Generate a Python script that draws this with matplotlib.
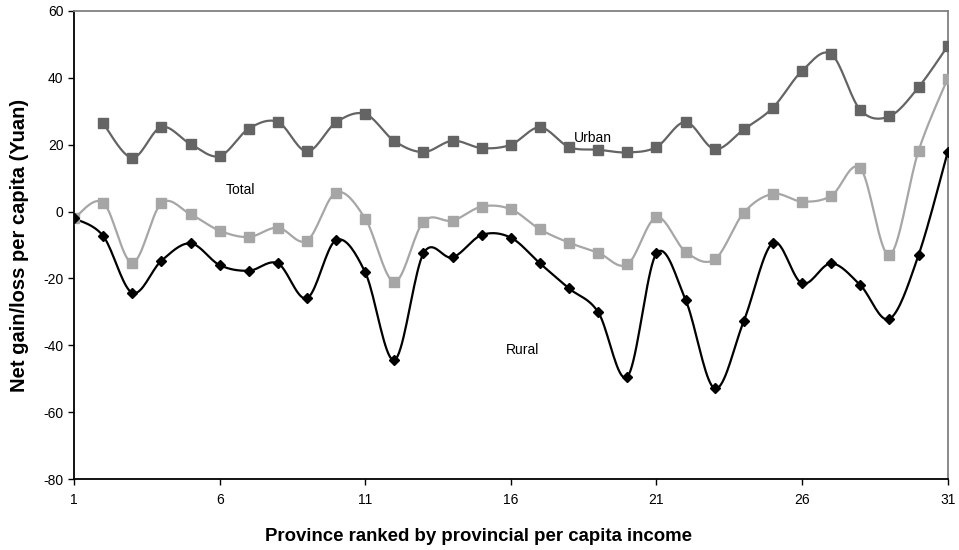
import numpy as np
import matplotlib
matplotlib.use('Agg')
import matplotlib.pyplot as plt

plt.rcParams['font.family'] = ['Liberation Sans', 'DejaVu Sans']
plt.rcParams['axes.unicode_minus'] = False

# Dados
provincias_urban = list(range(2, 32))
urban = [26.4, 16.1, 25.3, 20.2, 16.6, 24.8, 26.8, 18.0, 26.7, 29.2,
         21.1, 17.8, 21.2, 19.0, 20.0, 25.2, 19.3, 18.5, 17.7, 19.3,
         26.8, 18.7, 24.6, 31.1, 42.1, 47.1, 30.4, 28.5, 37.2, 49.5]
provincias = list(range(1, 32))
total = [-2.0, 2.7, -15.3, 2.5, -0.8, -5.7, -7.6, -4.8, -8.7, 5.7,
         -2.1, -21.0, -3.0, -2.7, 1.5, 0.7, -5.3, -9.3, -12.3, -15.8,
         -1.7, -12.0, -14.3, -0.3, 5.3, 3.0, 4.7, 13.0, -13.0, 18.2, 39.8]
rural = [-2.0, -7.3, -24.3, -14.7, -9.5, -16.0, -17.7, -15.5, -25.9, -8.5,
         -18.2, -44.4, -12.5, -13.7, -7.0, -7.8, -15.5, -23.0, -30.1, -49.4,
         -12.5, -26.4, -52.9, -32.7, -9.3, -21.5, -15.5, -22.0, -32.1, -13.0, 17.8]
xticks = [1, 6, 11, 16, 21, 26, 31]
yticks = [-80, -60, -40, -20, 0, 20, 40, 60]


# Curva suavizada (tipo Excel, Catmull-Rom via Bezier)
def suavizar(x, y, n=20):
    x = np.asarray(x, float)
    y = np.asarray(y, float)
    px, py = [], []
    for i in range(len(x) - 1):
        x0, y0 = (x[i - 1], y[i - 1]) if i > 0 else (x[i], y[i])
        x3, y3 = (x[i + 2], y[i + 2]) if i + 2 < len(x) else (x[i + 1], y[i + 1])
        x1, y1, x2, y2 = x[i], y[i], x[i + 1], y[i + 1]
        c1x, c1y = x1 + (x2 - x0) / 6, y1 + (y2 - y0) / 6
        c2x, c2y = x2 - (x3 - x1) / 6, y2 - (y3 - y1) / 6
        t = np.linspace(0, 1, n)
        bx = (1 - t) ** 3 * x1 + 3 * (1 - t) ** 2 * t * c1x + 3 * (1 - t) * t ** 2 * c2x + t ** 3 * x2
        by = (1 - t) ** 3 * y1 + 3 * (1 - t) ** 2 * t * c1y + 3 * (1 - t) * t ** 2 * c2y + t ** 3 * y2
        px.extend(bx)
        py.extend(by)
    return px, py


fig = plt.figure(figsize=(9.59, 5.5), dpi=100)
ax = fig.add_axes([0.0772, 0.129, 0.911, 0.851])

series = [
    (provincias_urban, urban, '#646464', 's'),
    (provincias, total, '#a6a6a6', 's'),
    (provincias, rural, '#000000', 'D'),
]
for xs, ys, cor, mk in series:
    sx, sy = suavizar(xs, ys)
    ax.plot(sx, sy, color=cor, lw=1.6, zorder=2)
    ax.plot(xs, ys, ls='none', marker=mk, color=cor,
            markersize=7 if mk == 's' else 5.5, zorder=3)

ax.text(18.8, 22, 'Urban', fontsize=10, ha='center', va='center')
ax.text(6.7, 6.5, 'Total', fontsize=10, ha='center', va='center')
ax.text(16.4, -41.5, 'Rural', fontsize=10, ha='center', va='center')

ax.set_xlim(1, 31)
ax.set_ylim(-80, 60)
ax.set_xticks(xticks)
ax.set_yticks(yticks)
ax.tick_params(labelsize=10, direction='out', length=4, width=1)
ax.tick_params(axis='x', pad=6)
for lado in ['left', 'bottom']:
    ax.spines[lado].set_color('black')
    ax.spines[lado].set_linewidth(1.3)
for lado in ['top', 'right']:
    ax.spines[lado].set_color('#808080')
    ax.spines[lado].set_linewidth(1.3)

ax.set_xlabel('Province ranked by provincial per capita income', fontsize=13.4,
              fontweight='bold')
ax.xaxis.set_label_coords(0.463, -0.105)
ax.set_ylabel('Net gain/loss per capita (Yuan)', fontsize=14.5,
              fontweight='bold', labelpad=10)

fig.savefig('out.png', dpi=100)
